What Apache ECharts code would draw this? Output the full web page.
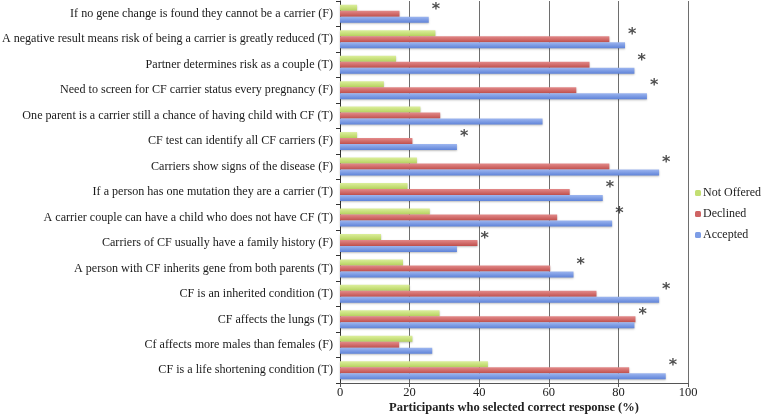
<!DOCTYPE html>
<html>
<head>
<meta charset="utf-8">
<script src="https://cdn.jsdelivr.net/npm/echarts@6/dist/echarts.min.js"></script>
<style>html,body{margin:0;padding:0;background:#fff}#c{width:763px;height:415px}</style>
</head>
<body>
<div id="c"></div>
<script>
const categories = [
  "If no gene change is found they cannot be a carrier (F)",
  "A negative result means risk of being a carrier is greatly reduced (T)",
  "Partner determines risk as a couple (T)",
  "Need to screen for CF carrier status every pregnancy (F)",
  "One parent is a carrier still a chance of having child with CF (T)",
  "CF test can identify all CF carriers (F)",
  "Carriers show signs of the disease (F)",
  "If a person has one mutation they are a carrier (T)",
  "A carrier couple can have a child who does not have CF (T)",
  "Carriers of CF usually have a family history (F)",
  "A person with CF inherits gene from both parents (T)",
  "CF is an inherited condition (T)",
  "CF affects the lungs (T)",
  "Cf affects more males than females (F)",
  "CF is a life shortening condition (T)"
];
const notOffered = [4.9, 27.4, 16.1, 12.6, 23.1, 4.9, 22.1, 19.4, 25.8, 11.8, 18.1, 20.0, 28.6, 20.8, 42.5];
const declined   = [17.1, 77.4, 71.7, 67.9, 28.8, 20.8, 77.4, 66.0, 62.4, 39.5, 60.4, 73.7, 84.9, 17.0, 83.1];
const accepted   = [25.5, 81.9, 84.6, 88.2, 58.2, 33.6, 91.7, 75.5, 78.2, 33.6, 67.1, 91.7, 84.6, 26.5, 93.6];
const significant = [true, true, true, true, false, true, true, true, true, true, true, true, true, false, true];
const xTicks = [0, 20, 40, 60, 80, 100];
const seriesNames = ["Not Offered", "Declined", "Accepted"];

const font = "'Liberation Serif', 'DejaVu Serif', serif";
function grad(top, bottom) {
  return new echarts.graphic.LinearGradient(0, 0, 0, 1, [
    {offset: 0, color: top}, {offset: 1, color: bottom}
  ]);
}
const colors = [grad('#dcef9c', '#b5d25e'), grad('#e38a8a', '#c0504d'), grad('#9db6f0', '#5f83d8')];
const legendColors = ['#c3df72', '#cf6464', '#7d9de6'];

const starData = categories.map((c, i) => significant[i] ? [Math.max(notOffered[i], declined[i], accepted[i]), c] : null).filter(d => d);

const chart = echarts.init(document.getElementById('c'), null, {renderer: 'canvas'});
chart.setOption({
  animation: false,
  textStyle: {fontFamily: font},
  grid: {left: 340, right: 75, top: 1, bottom: 32, containLabel: false, outerBoundsMode: 'none'},
  legend: {
    orient: 'vertical', left: 695, top: 187, padding: 0,
    itemWidth: 6, itemHeight: 6, itemGap: 9,
    textStyle: {fontFamily: font, fontSize: 12, color: '#222', padding: [0, 0, 0, -3]},
    data: seriesNames.map((n, i) => ({name: n, itemStyle: {color: legendColors[i]}}))
  },
  xAxis: {
    type: 'value', min: 0, max: 100, interval: 20,
    name: 'Participants who selected correct response (%)',
    nameLocation: 'middle', nameGap: 18, nameMoveOverlap: false,
    nameTextStyle: {fontFamily: font, fontWeight: 'bold', fontSize: 12.5, color: '#222'},
    axisLine: {show: true, lineStyle: {color: '#555'}},
    axisTick: {show: true, length: 4, lineStyle: {color: '#555'}},
    axisLabel: {fontFamily: font, fontSize: 12.5, color: '#222', margin: 3,
      formatter: v => xTicks.includes(v) ? String(v) : ''},
    splitLine: {show: true, lineStyle: {color: '#6e6e6e', width: 1}}
  },
  yAxis: {
    type: 'category', data: categories, inverse: true,
    axisLine: {show: true, lineStyle: {color: '#333'}},
    axisTick: {show: true, length: 4, lineStyle: {color: '#333'}},
    axisLabel: {fontFamily: font, fontSize: 12.1, color: '#1a1a1a', margin: 7}
  },
  series: [
    ...seriesNames.map((n, i) => ({
      name: n, type: 'bar', barWidth: 6, barGap: '0%',
      data: [notOffered, declined, accepted][i],
      itemStyle: {color: colors[i], shadowColor: 'rgba(0,0,0,0.25)', shadowBlur: 2, shadowOffsetY: 1}
    })),
    {
      type: 'scatter', symbolSize: 0, data: starData, silent: true,
      label: {show: true, position: 'right', distance: 3, offset: [0, -4],
        formatter: '*', fontSize: 16, fontWeight: 'bold', color: '#222', fontFamily: "'DejaVu Sans', sans-serif"}
    }
  ]
});
</script>
</body>
</html>
